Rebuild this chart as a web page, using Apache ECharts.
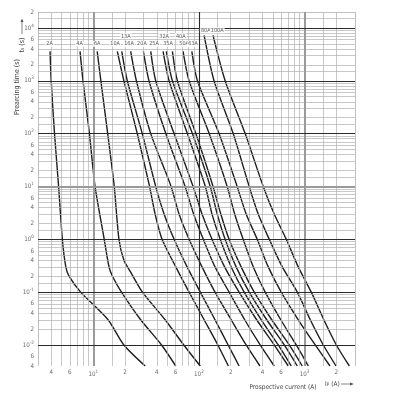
<!DOCTYPE html>
<html><head><meta charset="utf-8">
<script src="https://cdn.jsdelivr.net/npm/echarts@6/dist/echarts.min.js"></script>
<style>html,body{margin:0;padding:0;background:#fff}#c{width:400px;height:400px}</style>
</head><body><div id="c"></div>
<script>
const FONT = '"Liberation Sans Narrow","DejaVu Sans Condensed","Roboto",sans-serif';

// ---- Fuse curves: [prospective current (A), pre-arcing time (s)]
const curve2A   = [[3.9,3600],[4.0,1000],[4.3,100],[4.7,10],[5.1,1],[5.5,0.3],[5.9,0.2],[7.6,0.1],[13.8,0.03],[19.5,0.01],[31,0.004]];
const curve4A   = [[7.5,3600],[8.0,1000],[9.2,100],[10.4,10],[12.7,1],[14.1,0.3],[15.2,0.2],[18.5,0.1],[28.1,0.03],[44.3,0.01],[60.4,0.004]];
const curve6A   = [[10.9,3600],[11.8,1000],[13.7,100],[15.8,10],[17.5,1],[19.5,0.4],[22.3,0.25],[29.2,0.1],[47.9,0.03],[71.9,0.01],[103,0.004]];
const curve10A  = [[16.9,3600],[19.5,1000],[26.1,100],[34.1,10],[38.5,3],[44.8,1],[60.4,0.3],[80.7,0.1],[112,0.03],[151,0.01],[190,0.004]];
const curve13A  = [[18.6,3600],[21.0,1000],[29.1,100],[39.0,10],[46.8,3],[58.2,1],[77.3,0.3],[103,0.1],[142,0.03],[189,0.01],[240,0.004]];
const curve16A  = [[22.6,3600],[25.6,1000],[35.0,100],[54.5,10],[64.9,3],[80.7,1],[107,0.3],[142,0.1],[202,0.03],[280,0.01],[378,0.004]];
const curve20A  = [[29.8,3600],[33.7,1000],[48.6,100],[74.0,10],[89.1,3],[110,1],[142,0.3],[193,0.1],[271,0.03],[380,0.01],[516,0.004]];
const curve25A  = [[35.0,3600],[39.0,1000],[58.2,100],[88.1,10],[107,3],[133,1],[175,0.3],[240,0.1],[352,0.03],[516,0.01],[701,0.004]];
const curve32A  = [[45.8,3600],[52.2,1000],[77.8,100],[115,10],[133,3],[159,1],[202,0.3],[268,0.1],[389,0.03],[563,0.01],[748,0.004]];
const curve35A  = [[49.2,3600],[56.1,1000],[86.7,100],[128,10],[149,3],[177,1],[225,0.3],[299,0.1],[438,0.03],[642,0.01],[853,0.004]];
const curve40A  = [[56.1,3600],[62.5,1000],[93.5,100],[136,10],[161,3],[193,1],[251,0.3],[334,0.1],[489,0.03],[716,0.01],[951,0.004]];
const curve50A  = [[70.8,3600],[80.7,1000],[125,100],[185,10],[218,3],[262,1],[327,0.3],[424,0.1],[595,0.03],[834,0.01],[1084,0.004]];
const curve63A  = [[85.7,3600],[96.8,1000],[155,100],[230,10],[280,3],[356,1],[453,0.3],[601,0.1],[871,0.03],[1262,0.01],[1740,0.004]];
const curve80A  = [[112,7200],[139,1000],[211,100],[299,10],[364,3],[463,1],[615,0.3],[853,0.1],[1132,0.03],[1503,0.01],[1985,0.004]];
const curve100A = [[136,7200],[177,1000],[274,100],[406,10],[516,3],[671,1],[871,0.3],[1157,0.1],[1521,0.03],[1998,0.01],[2653,0.004]];
const curves = [curve2A,curve4A,curve6A,curve10A,curve13A,curve16A,curve20A,curve25A,curve32A,curve35A,curve40A,curve50A,curve63A,curve80A,curve100A];

// ---- Curve rating labels
const labelNames    = ['2A','4A','6A','10A','13A','16A','20A','25A','32A','35A','40A','50A','63A','80A','100A'];
const labelCurrents = [3.86,7.43,10.9,16.1,20.3,21.8,28.9,37.6,46.8,51.0,67.4,72.4,88.1,116,149];
const labelTimes    = [5000,5000,5000,5000,7000,5000,5000,5000,7000,5000,7000,5000,5000,9000,9000];

// ---- Axis ranges and tick labels
const xMin = 3, xMax = 3000, yMin = 0.004, yMax = 20000;
const xTickValues = [4,6,10,20,40,60,100,200,400,600,1000,2000];
const xTickTexts  = ['4','6','10^1','2','4','6','10^2','2','4','6','10^3','2'];
const yTickValues = [20000,10000,6000,4000,2000,1000,600,400,200,100,60,40,20,10,6,4,2,1,0.6,0.4,0.2,0.1,0.06,0.04,0.02,0.01,0.006,0.004];
const yTickTexts  = ['2','10^4','6','4','2','10^3','6','4','2','10^2','6','4','2','10^1','6','4','2','10^0','6','4','2','10^-1','6','4','2','10^-2','6','4'];

// ---- Grid line values
const gridMultipliers = [1.5,2,3,4,5,6,7,8,9];
const xDecades = [1,10,100,1000];
const yDecades = [0.001,0.01,0.1,1,10,100,1000,10000];
const xMajorGrid = [10,100,1000];
const yMajorGrid = [0.01,0.1,1,10,100,1000,10000];

function minorList(decades, lo, hi){
  const out=[];
  decades.forEach(d=>gridMultipliers.forEach(m=>{const v=+(d*m).toPrecision(3); if(v>lo && v<hi) out.push(v);}));
  return out;
}
const xMinorGrid = minorList(xDecades, xMin, xMax);
const yMinorGrid = minorList(yDecades, yMin, yMax);

const minorStyle = {color:'#b0b0b0', width:0.7, type:'solid'};
const darkStyle  = {color:'#2a2a2a', width:1.1, type:'solid'};
const greyStyle  = {color:'#9a9a9a', width:2, type:'solid'};
const frameStyle = {color:'#b0b0b0', width:0.8, type:'solid'};

const gridData = [];
xMinorGrid.forEach(v=>gridData.push({xAxis:v, lineStyle:minorStyle}));
yMinorGrid.forEach(v=>gridData.push({yAxis:v, lineStyle:minorStyle}));
gridData.push({xAxis:xMin, lineStyle:frameStyle},{xAxis:xMax, lineStyle:frameStyle},{yAxis:yMin, lineStyle:frameStyle},{yAxis:yMax, lineStyle:frameStyle});
xMajorGrid.forEach(v=>gridData.push({xAxis:v, lineStyle: v===100 ? darkStyle : greyStyle}));
yMajorGrid.forEach(v=>gridData.push({yAxis:v, lineStyle: v===10 ? greyStyle : darkStyle}));

function tickFmt(t){
  if(t.indexOf('10^')===0) return '10{s|'+t.slice(3)+'}';
  return t;
}
const tickRich = {s:{fontSize:4.6, fontFamily:FONT, color:'#444', verticalAlign:'top', padding:[0,0,5,0]}};

const series = [];
series.push({
  type:'line', data:[], silent:true, z:1,
  markLine:{silent:true, symbol:['none','none'], animation:false, label:{show:false}, emphasis:{disabled:true}, data:gridData}
});
curves.forEach((c,i)=>series.push({
  type:'line', name:labelNames[i], data:c, showSymbol:false, symbol:'none', smooth:0.25,
  lineStyle:{color:'#1e1e1e', width:1.4}, z:3, silent:true, clip:true
}));
series.push({
  type:'scatter', z:5, silent:true, clip:false, symbolSize:0,
  data: labelNames.map((n,i)=>({name:n, value:[labelCurrents[i], labelTimes[i]]})),
  label:{show:true, position:'inside', formatter:'{b}', fontSize:5.5, fontFamily:FONT, color:'#333', backgroundColor:'#fff', padding:[0,1]}
});
series.push({
  type:'scatter', z:5, silent:true, clip:false, symbolSize:0,
  data: xTickValues.map((v,i)=>({name:xTickTexts[i], value:[v, yMin]})),
  label:{show:true, position:'bottom', distance:3, formatter:p=>tickFmt(p.name), fontSize:6.2, fontFamily:FONT, color:'#444', rich:tickRich}
});
series.push({
  type:'scatter', z:5, silent:true, clip:false, symbolSize:0,
  data: yTickValues.map((v,i)=>({name:yTickTexts[i], value:[xMin, v]})),
  label:{show:true, position:'left', distance:4, formatter:p=>tickFmt(p.name), fontSize:6.2, fontFamily:FONT, color:'#444', rich:tickRich}
});

const chart = echarts.init(document.getElementById('c'));
chart.setOption({
  animation:false,
  backgroundColor:'#fff',
  grid:{left:38, right:45, top:12, bottom:34, containLabel:false},
  xAxis:{type:'log', logBase:10, min:xMin, max:xMax, axisLine:{show:false}, axisTick:{show:false}, axisLabel:{show:false}, splitLine:{show:false}},
  yAxis:{type:'log', logBase:10, min:yMin, max:yMax, axisLine:{show:false}, axisTick:{show:false}, axisLabel:{show:false}, splitLine:{show:false}},
  series:series,
  graphic:[
    {type:'text', x:17, y:87, rotation:Math.PI/2, style:{text:'Prearcing time (s)', font:'7px '+FONT, fill:'#444', align:'center', verticalAlign:'middle'}},
    {type:'text', x:22, y:45, rotation:Math.PI/2, style:{text:'t{sub|s} (s)', font:'7px '+FONT, fill:'#444', align:'center', verticalAlign:'middle', rich:{sub:{fontSize:5, fontFamily:FONT, fill:'#444', verticalAlign:'bottom'}}}},
    {type:'line', shape:{x1:22, y1:34, x2:22, y2:20}, style:{stroke:'#555', lineWidth:0.7}},
    {type:'polygon', shape:{points:[[20.5,22],[23.5,22],[22,18.5]]}, style:{fill:'#555'}},
    {type:'text', x:283, y:387, style:{text:'Prospective current (A)', font:'6.5px '+FONT, fill:'#444', align:'center', verticalAlign:'middle'}},
    {type:'text', x:325, y:384, style:{text:'I{sub|p} (A)', font:'6.5px '+FONT, fill:'#444', align:'left', verticalAlign:'middle', rich:{sub:{fontSize:4.5, fontFamily:FONT, fill:'#444'}}}},
    {type:'line', shape:{x1:341, y1:384, x2:352, y2:384}, style:{stroke:'#555', lineWidth:0.7}},
    {type:'polygon', shape:{points:[[350,382.5],[350,385.5],[354,384]]}, style:{fill:'#555'}}
  ]
});
</script></body></html>
